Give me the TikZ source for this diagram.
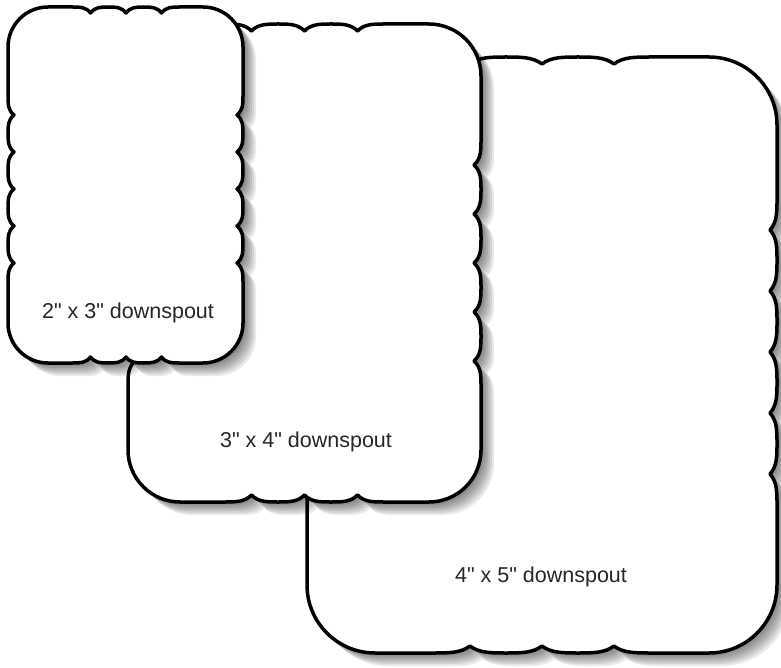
\documentclass[tikz,border=0pt]{standalone}
\usepackage{fontspec}
\setmainfont{Liberation Sans}
\newfontfamily\lblfont{Liberation Sans}
\tikzset{
  outline/.style={draw=black, fill=white, line width=3.5pt, line join=round},
  shadowlayer/.style={fill=black, opacity=0.09},
  lbl/.style={font=\lblfont\fontsize{21.5}{24}\selectfont, text=black!85, inner sep=0pt}
}
% scalloped rounded rectangle, parameters set by \setshape
\newcommand{\setshape}[8]{%
  \def\shL{#1}\def\shT{#2}\def\shR{#3}\def\shB{#4}%
  \def\shr{#5}\def\shd{#6}\def\shh{#7}\def\shv{#8}}
\newcommand{\scalpath}{%
  ({\shL+\shr},\shT)
  \foreach \q in \shH {
    -- ({\q-\shh},\shT) .. controls ({\q-0.6*\shh},\shT) and ({\q-0.25*\shh},\shT) .. (\q,{\shT+\shd})
    .. controls ({\q+0.25*\shh},\shT) and ({\q+0.6*\shh},\shT) .. ({\q+\shh},\shT) }
  -- ({\shR-\shr},\shT) .. controls ({\shR-0.4477*\shr},\shT) and (\shR,{\shT+0.4477*\shr}) .. (\shR,{\shT+\shr})
  \foreach \q in \shV {
    -- (\shR,{\q-\shv}) .. controls (\shR,{\q-0.6*\shv}) and (\shR,{\q-0.25*\shv}) .. ({\shR-\shd},\q)
    .. controls (\shR,{\q+0.25*\shv}) and (\shR,{\q+0.6*\shv}) .. (\shR,{\q+\shv}) }
  -- (\shR,{\shB-\shr}) .. controls (\shR,{\shB-0.4477*\shr}) and ({\shR-0.4477*\shr},\shB) .. ({\shR-\shr},\shB)
  \foreach \q in \shHr {
    -- ({\q+\shh},\shB) .. controls ({\q+0.6*\shh},\shB) and ({\q+0.25*\shh},\shB) .. (\q,{\shB-\shd})
    .. controls ({\q-0.25*\shh},\shB) and ({\q-0.6*\shh},\shB) .. ({\q-\shh},\shB) }
  -- ({\shL+\shr},\shB) .. controls ({\shL+0.4477*\shr},\shB) and (\shL,{\shB-0.4477*\shr}) .. (\shL,{\shB-\shr})
  \foreach \q in \shVr {
    -- (\shL,{\q+\shv}) .. controls (\shL,{\q+0.6*\shv}) and (\shL,{\q+0.25*\shv}) .. ({\shL+\shd},\q)
    .. controls (\shL,{\q-0.25*\shv}) and (\shL,{\q-0.6*\shv}) .. (\shL,{\q-\shv}) }
  -- (\shL,{\shT+\shr}) .. controls (\shL,{\shT+0.4477*\shr}) and ({\shL+0.4477*\shr},\shT) .. ({\shL+\shr},\shT)
  -- cycle}
\newcommand{\drawshape}{%
  \foreach \k in {3,5,7,9,11,13} {
    \fill[shadowlayer, shift={(\k,\k)}] \scalpath;
  }
  \draw[outline] \scalpath;}
\begin{document}
\begin{tikzpicture}[x=1pt, y=-1pt]
\useasboundingbox (0,0) rectangle (781,668);
% 4" x 5" (back)
\setshape{307}{57}{777}{653}{68}{7}{36}{30.5}
\def\shH{470,542,614}\def\shHr{614,542,470}
\def\shV{230,291,352,413,474}\def\shVr{474,413,352,291,230}
\drawshape
% 3" x 4" (middle)
\setshape{128}{24}{481}{502}{52}{7}{26.5}{24.5}
\def\shH{251.5,304.5,357.5}\def\shHr{357.5,304.5,251.5}
\def\shV{165,214,263,312,361}\def\shVr{361,312,263,214,165}
\drawshape
% 2" x 3" (front)
\setshape{8}{7}{243}{363}{40}{6}{17.75}{18.5}
\def\shH{90.5,126,161.5}\def\shHr{161.5,126,90.5}
\def\shV{115,152,189,226,263}\def\shVr{263,226,189,152,115}
\drawshape
% labels
\node[lbl] (t1) at (128,313) {2" x 3" downspout};
\node[lbl] (t2) at (306,442) {3" x 4" downspout};
\node[lbl] (t3) at (541,577) {4" x 5" downspout};
\end{tikzpicture}
\end{document}
